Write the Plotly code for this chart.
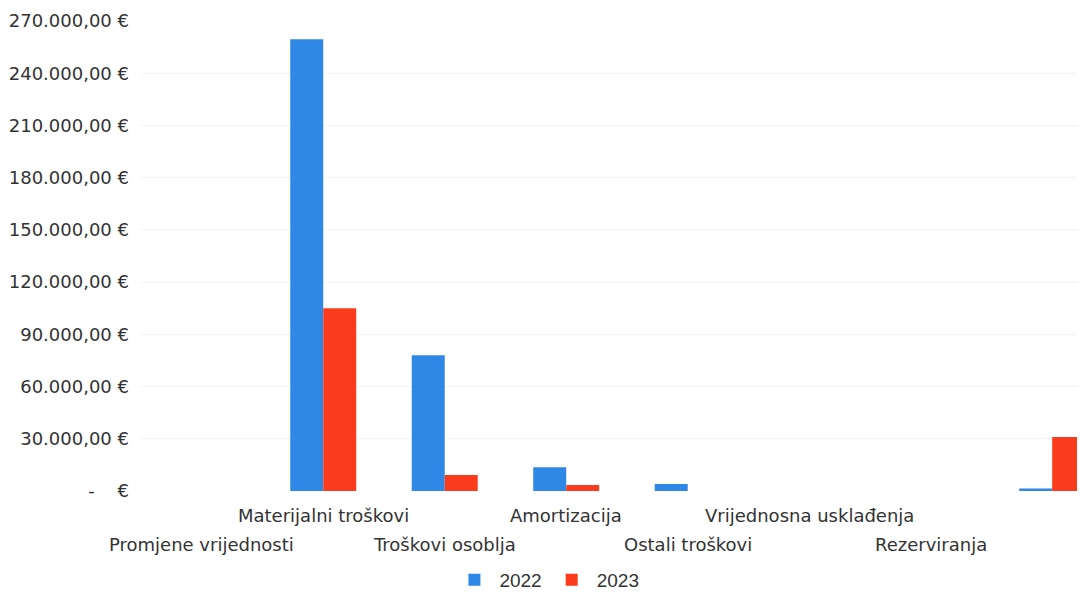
import plotly.graph_objects as go

categories = ["Promjene vrijednosti", "Materijalni troškovi", "Troškovi osoblja",
              "Amortizacija", "Ostali troškovi", "Vrijednosna usklađenja",
              "Rezerviranja", "Ostali poslovni rashodi"]
label_shown = [True, True, True, True, True, True, True, False]
values_2022 = [0, 259500, 78000, 13700, 4000, 0, 0, 1500]
values_2023 = [0, 105000, 9200, 3400, 0, 0, 0, 31000]
series_names = ["2022", "2023"]
tick_vals = [0, 30000, 60000, 90000, 120000, 150000, 180000, 210000, 240000, 270000]
tick_text = ["-\u00a0\u00a0\u00a0\u00a0€", "30.000,00 €", "60.000,00 €", "90.000,00 €",
             "120.000,00 €", "150.000,00 €", "180.000,00 €", "210.000,00 €",
             "240.000,00 €", "270.000,00 €"]

FONT = "DejaVu Sans, Noto Sans, sans-serif"
x_idx = list(range(len(categories)))

fig = go.Figure()
fig.add_trace(go.Bar(x=x_idx, y=values_2022, name=series_names[0],
                     marker=dict(color="#2f88e6", line=dict(width=0))))
fig.add_trace(go.Bar(x=x_idx, y=values_2023, name=series_names[1],
                     marker=dict(color="#fb3c1c", line=dict(width=0))))

annotations = []
for i, (c, s) in enumerate(zip(categories, label_shown)):
    if not s:
        continue
    upper = (i % 2 == 1)
    annotations.append(dict(x=i, y=0, xref="x", yref="y", text=c, showarrow=False,
                            yshift=-24 if upper else -53, yanchor="middle",
                            font=dict(family=FONT, size=18, color="#333333")))

fig.update_layout(
    width=1077, height=591,
    margin=dict(l=133, r=0, t=13, b=108, autoexpand=False),
    paper_bgcolor="white", plot_bgcolor="white",
    barmode="group", bargap=0.457, bargroupgap=0,
    xaxis=dict(range=[-0.5, 7.27], showticklabels=False, showgrid=False,
               zeroline=False, showline=False, ticks="", automargin=False),
    yaxis=dict(range=[0, 270000], tickvals=tick_vals, ticktext=tick_text,
               showgrid=True, gridcolor="#f3f3f3", gridwidth=1, zeroline=False,
               showline=False, ticks="", ticklabelstandoff=11, automargin=False,
               tickfont=dict(family=FONT, size=18, color="#333333")),
    legend=dict(orientation="h", x=0.43, xanchor="center", y=0, yref="container",
                yanchor="bottom",
                font=dict(family="Liberation Sans, Arial, sans-serif", size=19, color="#333333"),
                itemwidth=40),
    annotations=annotations,
    showlegend=True,
)

fig.write_html("out.html")
